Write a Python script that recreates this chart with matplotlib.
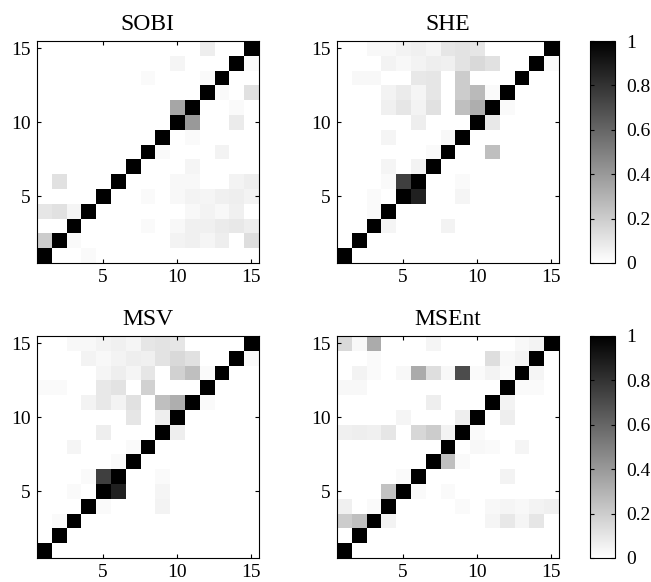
import numpy as np
import matplotlib
matplotlib.use('Agg')
import matplotlib.pyplot as plt

plt.rcParams['font.family'] = ['Liberation Serif', 'DejaVu Serif']

n = 15
titles = ['SOBI', 'SHE', 'MSV', 'MSEnt']

# off-diagonal cells as (x, y, value); diagonal is 1
sobi = [(12, 15, .07), (10, 14, .04), (15, 14, .02), (8, 13, .02), (12, 13, .02),
        (13, 12, .02), (15, 12, .12), (10, 11, .35), (14, 11, .02), (11, 10, .4),
        (14, 10, .08), (11, 9, .02), (9, 8, .02), (13, 8, .05), (11, 7, .04),
        (2, 6, .12), (10, 6, .03), (11, 6, .03), (14, 6, .05), (15, 6, .07),
        (8, 5, .02), (10, 5, .03), (11, 5, .05), (12, 5, .04), (13, 5, .06),
        (14, 5, .07), (15, 5, .05), (1, 4, .1), (2, 4, .12), (3, 4, .04),
        (11, 4, .03), (12, 4, .05), (13, 4, .03), (14, 4, .06), (8, 3, .02),
        (10, 3, .03), (11, 3, .06), (12, 3, .06), (13, 3, .08), (14, 3, .09),
        (15, 3, .07), (1, 2, .2), (3, 2, .02), (10, 2, .05), (11, 2, .06),
        (12, 2, .04), (13, 2, .07), (15, 2, .13), (4, 1, .02)]

she = [(3, 15, .03), (4, 15, .03), (5, 15, .05), (6, 15, .06), (7, 15, .04),
       (8, 15, .1), (9, 15, .11), (10, 15, .1), (4, 14, .05), (5, 14, .03),
       (6, 14, .05), (7, 14, .07), (8, 14, .06), (9, 14, .11), (10, 14, .15),
       (11, 14, .12), (15, 14, .02), (2, 13, .03), (3, 13, .03), (6, 13, .09),
       (7, 13, .1), (9, 13, .2), (4, 12, .05), (5, 12, .08), (6, 12, .04),
       (7, 12, .1), (9, 12, .2), (10, 12, .27), (11, 12, .02), (4, 11, .06),
       (5, 11, .1), (6, 11, .05), (7, 11, .12), (9, 11, .25), (10, 11, .32),
       (12, 11, .02), (6, 10, .07), (11, 10, .09), (4, 9, .04), (8, 9, .03),
       (7, 8, .02), (11, 8, .25), (4, 7, .04), (6, 7, .05), (4, 6, .02),
       (5, 6, .75), (9, 6, .02), (3, 5, .02), (6, 5, .87), (9, 5, .04),
       (3, 4, .02), (4, 3, .04), (8, 3, .05)]

msv = [(3, 15, .03), (4, 15, .03), (5, 15, .05), (6, 15, .06), (7, 15, .04),
       (8, 15, .1), (9, 15, .11), (10, 15, .1), (4, 14, .05), (5, 14, .03),
       (6, 14, .05), (7, 14, .07), (8, 14, .06), (9, 14, .11), (10, 14, .15),
       (11, 14, .12), (15, 14, .02), (5, 13, .04), (6, 13, .07), (7, 13, .04),
       (8, 13, .1), (10, 13, .18), (11, 13, .25), (12, 13, .02), (1, 12, .02),
       (2, 12, .02), (5, 12, .09), (6, 12, .11), (8, 12, .18), (4, 11, .05),
       (5, 11, .09), (6, 11, .05), (7, 11, .12), (9, 11, .25), (10, 11, .32),
       (12, 11, .02), (7, 10, .1), (9, 10, .07), (5, 9, .07), (10, 9, .07),
       (3, 8, .04), (7, 8, .02), (6, 7, .02), (4, 6, .02), (5, 6, .75),
       (9, 6, .02), (3, 5, .02), (6, 5, .87), (9, 5, .04), (5, 4, .02),
       (9, 4, .05), (2, 3, .02)]

msent = [(1, 15, .15), (2, 15, .03), (3, 15, .33), (7, 15, .04), (13, 15, .03),
         (14, 15, .05), (3, 14, .02), (11, 14, .13), (12, 14, .03), (13, 14, .05),
         (2, 13, .05), (3, 13, .02), (5, 13, .03), (6, 13, .33), (7, 13, .13),
         (8, 13, .03), (9, 13, .7), (10, 13, .02), (11, 13, .05), (12, 13, .02),
         (14, 13, .04), (1, 12, .03), (2, 12, .03), (13, 12, .02), (14, 12, .02),
         (7, 11, .07), (12, 11, .05), (5, 10, .04), (9, 10, .07), (12, 10, .07),
         (1, 9, .06), (2, 9, .07), (3, 9, .06), (4, 9, .1), (6, 9, .16),
         (7, 9, .2), (8, 9, .05), (10, 9, .02), (10, 8, .03), (11, 8, .02),
         (13, 8, .04), (8, 7, .25), (9, 7, .02), (5, 6, .02), (12, 6, .05),
         (4, 5, .24), (6, 5, .02), (8, 5, .02), (1, 4, .06), (3, 4, .02),
         (9, 4, .02), (11, 4, .03), (12, 4, .04), (13, 4, .03), (14, 4, .05),
         (15, 4, .06), (1, 3, .2), (2, 3, .25), (4, 3, .05), (11, 3, .04),
         (12, 3, .09), (13, 3, .04), (14, 3, .1)]


def build(cells):
    m = np.eye(n)
    for x, y, v in cells:
        m[y - 1, x - 1] = v
    return m


W, H = 651, 582
fig = plt.figure(figsize=(W / 100, H / 100), dpi=100)

boxes = [(36.5, 41), (336.5, 41), (36.5, 336), (336.5, 336)]
aw, ah = 222, 222
for (l, t), title, cells in zip(boxes, titles, [sobi, she, msv, msent]):
    ax = fig.add_axes([l / W, 1 - (t + ah) / H, aw / W, ah / H])
    im = ax.imshow(build(cells), cmap='gray_r', vmin=0, vmax=1, origin='lower',
                   extent=(0.5, n + 0.5, 0.5, n + 0.5), interpolation='nearest',
                   aspect='auto')
    ax.set_xticks([5, 10, 15])
    ax.set_yticks([5, 10, 15])
    ax.tick_params(direction='in', top=True, right=True, length=3, labelsize=14, pad=4)
    ax.set_title(title, fontsize=17, pad=8)
    for s in ax.spines.values():
        s.set_linewidth(0.8)

for t in [41, 336]:
    cax = fig.add_axes([590 / W, 1 - (t + ah) / H, 25 / W, ah / H])
    cb = fig.colorbar(im, cax=cax, ticks=[0, 0.2, 0.4, 0.6, 0.8, 1])
    cb.ax.set_yticklabels(['0', '0.2', '0.4', '0.6', '0.8', '1'])
    cb.ax.tick_params(direction='in', length=3, labelsize=14, pad=8, left=True)
    cb.outline.set_linewidth(0.8)

fig.savefig('out.png', dpi=100)
